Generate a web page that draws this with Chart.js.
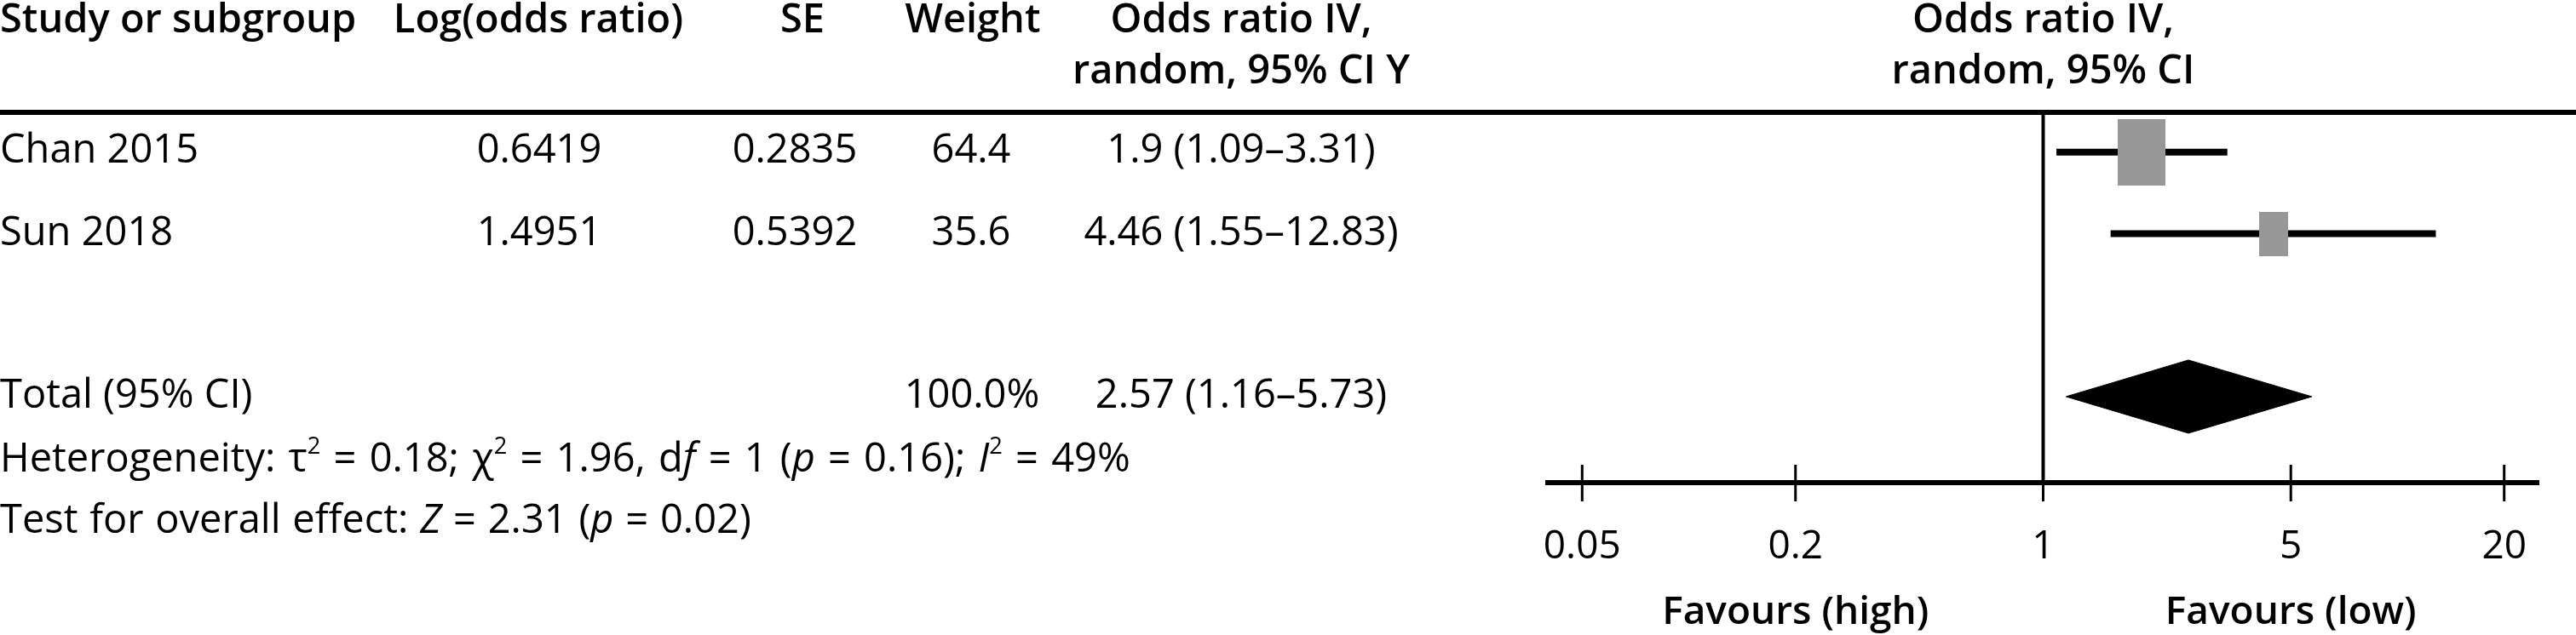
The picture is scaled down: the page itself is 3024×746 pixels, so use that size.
<!DOCTYPE html>
<html>
<head>
<meta charset="utf-8">
<script src="https://cdn.jsdelivr.net/npm/chart.js@4.4.1/dist/chart.umd.min.js"></script>
<style>
  html, body { margin: 0; padding: 0; background: #fff; }
  #wrap { position: relative; width: 3024px; height: 746px; overflow: hidden; }
  #forest { position: absolute; left: 0; top: 0; }
  .t { position: absolute; font-family: 'Open Sans', sans-serif; font-size: 47px; line-height: 47px; color: #000; white-space: nowrap; }
  .h { font-weight: 600; }
  .c { transform: translateX(-50%); }
  .het { word-spacing: 3px; }
  .test { word-spacing: 1.6px; }
  .rule { position: absolute; left: 0; top: 129px; width: 3024px; height: 6px; background: #000; }
  sup { font-size: 58%; line-height: 0; vertical-align: 0.78em; }
</style>
</head>
<body>
<div id="wrap">
  <canvas id="forest" width="3024" height="746"></canvas>
  <div class="rule"></div>
  <div id="table"></div>
</div>
<script>
// data
const studies = ['Chan 2015', 'Sun 2018'];
const logOddsRatio = ['0.6419', '1.4951'];
const standardError = ['0.2835', '0.5392'];
const weights = [64.4, 35.6];
const oddsRatio = [1.9, 4.46];
const ciLow = [1.09, 1.55];
const ciHigh = [3.31, 12.83];

const totalOddsRatio = 2.57;
const totalLow = 1.16;
const totalHigh = 5.73;

const tau2 = 0.18, chi2 = 1.96, df = 1, pHet = 0.16, i2 = 49;
const zValue = 2.31, pOverall = 0.02;

const tickValues = [0.05, 0.2, 1, 5, 20];
const tickLabels = ['0.05', '0.2', '1', '5', '20'];
const favourLabels = ['Favours (high)', 'Favours (low)'];

// layout / style
const studyRows = [1, 2];
const totalRow = 4;
const yMin = 0.5, yMax = 5.056;
const boxW = [56, 34], boxH = [78, 52];
const diamondHalf = 0.449;
const boxColor = '#979797';
const FONT = "'Open Sans'";

function fmtCI(or, lo, hi) {
  return `${or} (${lo}\u2013${hi})`;
}

function makeBox(w, h) {
  const c = document.createElement('canvas');
  c.width = w; c.height = h;
  const g = c.getContext('2d');
  g.fillStyle = boxColor;
  g.fillRect(0, 0, w, h);
  return c;
}

// table text (html)
const table = document.getElementById('table');
function addText(html, x, baseline, cls) {
  const d = document.createElement('div');
  d.className = 't ' + (cls || '');
  d.innerHTML = html;
  d.style.left = x + 'px';
  d.style.top = (baseline - 41.7) + 'px';
  table.appendChild(d);
  return d;
}

addText('Study or subgroup', 0, 39, 'h');
addText('Log(odds ratio)', 632, 39, 'h c');
addText('SE', 942, 39, 'h c');
addText('Weight', 1142, 39, 'h c');
addText('Odds ratio IV,', 1457, 39, 'h c');
addText('random, 95% CI Y', 1457, 99, 'h c');

const rowBaselines = [192, 289];
studies.forEach((s, i) => {
  const b = rowBaselines[i];
  addText(s, 0, b);
  addText(logOddsRatio[i], 633, b, 'c');
  addText(standardError[i], 933, b, 'c');
  addText(String(weights[i]), 1140, b, 'c');
  addText(fmtCI(oddsRatio[i], ciLow[i], ciHigh[i]), 1457, b, 'c');
});

const totalWeight = weights.reduce((a, b) => a + b, 0).toFixed(1) + '%';
addText('Total (95% CI)', 0, 480);
addText(totalWeight, 1141, 480, 'c');
addText(fmtCI(totalOddsRatio, totalLow, totalHigh), 1457, 480, 'c');
addText(`Heterogeneity: \u03c4<sup>2</sup> = ${tau2}; \u03c7<sup>2</sup> = ${chi2}, d<i>f</i> = ${df} (<i>p</i> = ${pHet}); <i>I</i><sup>2</sup> = ${i2}%`, 0, 555, 'het');
addText(`Test for overall effect: <i>Z</i> = ${zValue} (<i>p</i> = ${pOverall})`, 0, 627, 'test');

// datasets
const datasets = [];
datasets.push({
  label: 'weights',
  data: studies.map((s, i) => ({ x: oddsRatio[i], y: studyRows[i] })),
  showLine: false,
  pointStyle: studies.map((s, i) => makeBox(boxW[i], boxH[i])),
  pointRadius: 20,
  order: 0
});
studies.forEach((s, i) => {
  datasets.push({
    label: s,
    data: [{ x: ciLow[i], y: studyRows[i] }, { x: ciHigh[i], y: studyRows[i] }],
    borderColor: '#000',
    borderWidth: 8,
    borderCapStyle: 'butt',
    pointRadius: 0,
    fill: false,
    order: 1
  });
});
datasets.push({
  label: 'total top',
  data: [{ x: totalLow, y: totalRow }, { x: totalOddsRatio, y: totalRow - diamondHalf }, { x: totalHigh, y: totalRow }],
  borderColor: '#000', borderWidth: 1, pointRadius: 0, fill: false, order: 2
});
datasets.push({
  label: 'total bottom',
  data: [{ x: totalLow, y: totalRow }, { x: totalOddsRatio, y: totalRow + diamondHalf }, { x: totalHigh, y: totalRow }],
  borderColor: '#000', borderWidth: 1, pointRadius: 0, fill: '-1', backgroundColor: '#000', order: 2
});
datasets.push({
  label: 'no effect',
  data: [{ x: 1, y: yMin }, { x: 1, y: yMax }],
  borderColor: '#000', borderWidth: 4, pointRadius: 0, fill: false, order: 3
});

const axisDecor = {
  id: 'axisDecor',
  afterDraw(chart) {
    const { ctx, chartArea, scales: { x } } = chart;
    ctx.save();
    ctx.strokeStyle = '#000';
    ctx.lineWidth = 3;
    x.ticks.forEach(t => {
      const px = x.getPixelForValue(t.value);
      ctx.beginPath();
      ctx.moveTo(px, chartArea.bottom - 21);
      ctx.lineTo(px, chartArea.bottom + 22);
      ctx.stroke();
    });
    const mid = x.getPixelForValue(1);
    ctx.font = `600 46px ${FONT}`;
    ctx.fillStyle = '#000';
    ctx.textAlign = 'center';
    ctx.textBaseline = 'alphabetic';
    ctx.fillText(favourLabels[0], (chartArea.left + mid) / 2, 733);
    ctx.fillText(favourLabels[1], (mid + chartArea.right) / 2, 733);
    ctx.restore();
  }
};

const chart = new Chart(document.getElementById('forest'), {
  type: 'line',
  data: { datasets },
  options: {
    responsive: false,
    devicePixelRatio: 1,
    animation: false,
    events: [],
    layout: { padding: { left: 1817, right: 44, top: 131, bottom: 0 } },
    plugins: { legend: { display: false }, tooltip: { enabled: false } },
    scales: {
      x: {
        type: 'logarithmic',
        position: 'bottom',
        min: 0.04,
        max: 25,
        afterBuildTicks: scale => { scale.ticks = tickValues.map(v => ({ value: v })); },
        afterFit: scale => { scale.height = 746 - 567; },
        grid: { display: false, drawTicks: false },
        border: { display: true, width: 6, color: '#000' },
        ticks: {
          autoSkip: false,
          maxRotation: 0,
          padding: 48,
          color: '#000',
          font: { family: FONT, size: 46 },
          callback: value => tickLabels[tickValues.indexOf(value)]
        }
      },
      y: {
        type: 'linear',
        display: false,
        reverse: true,
        min: yMin,
        max: yMax
      }
    }
  },
  plugins: [axisDecor]
});

// right-hand column header sits over the line of no effect
const nullX = chart.scales.x.getPixelForValue(1);
addText('Odds ratio IV,', nullX, 39, 'h c');
addText('random, 95% CI', nullX, 99, 'h c');
</script>
</body>
</html>
